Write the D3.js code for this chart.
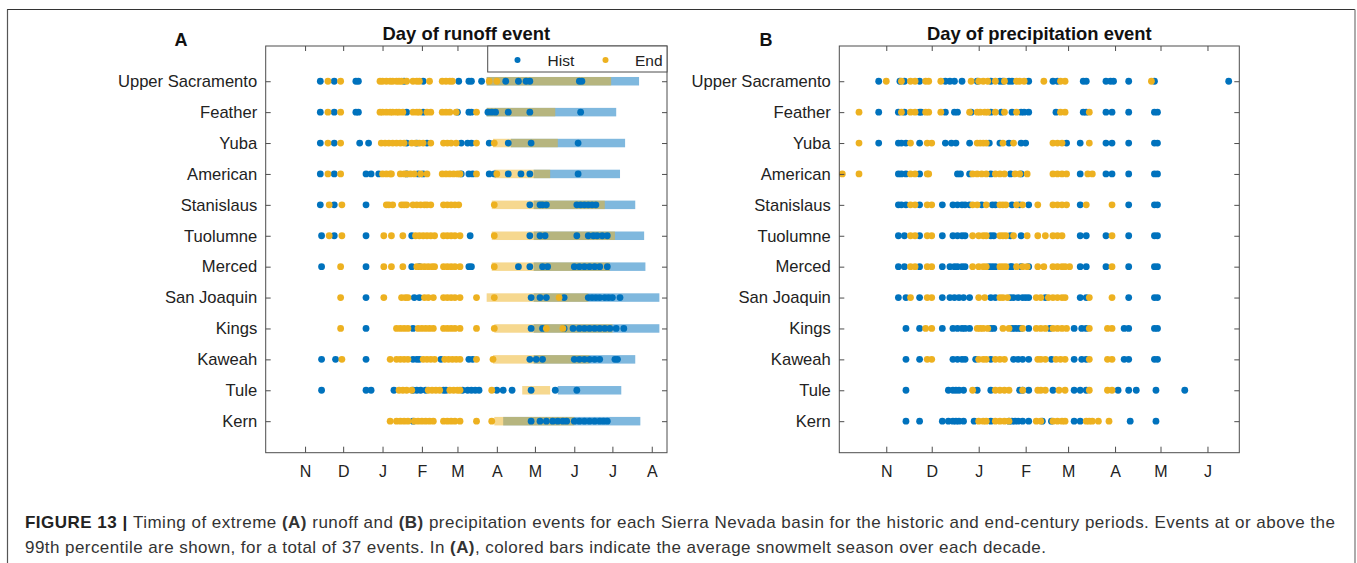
<!DOCTYPE html>
<html>
<head>
<meta charset="utf-8">
<script src="https://cdn.jsdelivr.net/npm/d3@7"></script>
<style>
  html, body { margin: 0; padding: 0; background: #fff; }
  svg { display: block; font-family: "Liberation Sans", Arial, Helvetica, sans-serif; }
</style>
</head>
<body>
<svg id="fig" width="1357" height="563"></svg>
<script>
// Basins, top to bottom
const basins = ["Upper Sacramento", "Feather", "Yuba", "American", "Stanislaus", "Tuolumne",
  "Merced", "San Joaquin", "Kings", "Kaweah", "Tule", "Kern"];

// Month ticks, as day of water year (Oct 1 = day 1)
const tickDays = [32, 62, 93, 124, 152, 183, 213, 244, 274, 305];
const tickLabelsA = ["N", "D", "J", "F", "M", "A", "M", "J", "J", "A"];
const tickLabelsB = ["N", "D", "J", "F", "M", "A", "M", "J"];

// Day of extreme runoff events, historic period (one list per basin)
const runoffHist = [
  [44, 55, 72, 74, 110, 125, 153, 161, 163, 171, 190, 200, 206, 209, 248, 250],
  [44, 55, 72, 74, 112, 125, 152, 161, 163, 176, 179, 182, 192, 209, 249],
  [44, 55, 75, 82, 112, 120, 128, 155, 160, 163, 177, 192, 210, 247],
  [44, 55, 80, 84, 90, 112, 121, 125, 155, 161, 164, 177, 181, 192, 202, 209, 247],
  [44, 55, 80, 209, 217, 219, 222, 246, 249, 252, 255, 258, 261],
  [45, 55, 80, 116, 162, 209, 217, 221, 246, 255, 259, 262, 266, 270],
  [45, 80, 116, 122, 161, 163, 200, 209, 219, 223, 244, 248, 252, 256, 260, 264, 270],
  [80, 118, 122, 210, 217, 222, 236, 255, 258, 261, 264, 268, 271, 274, 280],
  [80, 117, 210, 219, 236, 243, 248, 252, 256, 260, 264, 268, 272, 277, 283],
  [45, 56, 80, 117, 120, 122, 139, 161, 164, 209, 214, 219, 244, 248, 252, 256, 260, 264, 276, 278],
  [45, 80, 84, 102, 117, 120, 123, 127, 141, 143, 156, 160, 163, 166, 169, 183, 188, 195, 210, 229, 246],
  [117, 210, 217, 222, 227, 231, 235, 238, 244, 248, 252, 256, 260, 264, 267, 270]
];

// Day of extreme runoff events, end-century period
const runoffEnd = [
  [50, 60, 91, 93, 96, 99, 101, 104, 106, 108, 112, 117, 120, 122, 130, 140, 143, 146, 148, 177, 183],
  [50, 60, 91, 93, 96, 99, 101, 104, 106, 109, 117, 120, 122, 128, 131, 140, 143, 146, 151, 167],
  [50, 60, 92, 95, 98, 101, 104, 107, 110, 116, 119, 122, 125, 131, 141, 144, 147, 151, 167, 181],
  [50, 60, 93, 96, 99, 100, 107, 110, 112, 115, 118, 123, 128, 140, 143, 146, 149, 152, 154, 167, 183],
  [51, 61, 96, 98, 101, 108, 110, 112, 117, 120, 123, 126, 128, 131, 141, 144, 147, 150, 153, 181],
  [51, 61, 94, 100, 109, 119, 122, 125, 128, 131, 134, 141, 144, 147, 150, 154, 181],
  [60, 94, 100, 109, 120, 123, 126, 129, 132, 134, 141, 144, 147, 150, 154, 181],
  [60, 94, 108, 111, 113, 126, 129, 133, 141, 144, 147, 150, 154, 167, 181, 232],
  [60, 104, 107, 110, 113, 121, 124, 127, 130, 133, 141, 144, 147, 150, 154, 167, 181, 222, 235],
  [61, 99, 104, 107, 110, 113, 125, 128, 131, 134, 142, 145, 148, 151, 154, 167, 180],
  [106, 109, 112, 116, 129, 132, 135, 138, 146, 149, 152, 154, 179],
  [99, 104, 107, 110, 113, 118, 121, 124, 127, 130, 133, 141, 144, 147, 150, 154, 167, 179]
];

// Average snowmelt season [start, end] per basin
const meltHist = [
  [175, 295], [175, 277], [194, 284], [212, 280], [212, 292], [212, 299],
  [212, 300], [212, 311], [212, 311], [212, 292], [231, 281], [188, 296]
];
const meltEnd = [
  [175, 273], [175, 229], [180, 231], [181, 225], [179, 268], [179, 276],
  [179, 272], [175, 255], [181, 274], [180, 256], [203, 225], [181, 244]
];

// Day of extreme precipitation events, historic period
const precipHist = [
  [27, 41, 44, 54, 71, 74, 77, 82, 92, 101, 107, 109, 113, 115, 126, 142, 145, 162, 164, 177, 180, 182, 192, 209, 258],
  [27, 40, 44, 54, 55, 71, 77, 79, 88, 101, 108, 115, 121, 123, 126, 144, 162, 164, 177, 181, 192, 209, 211],
  [27, 40, 42, 45, 54, 71, 75, 78, 87, 100, 107, 113, 121, 124, 151, 160, 177, 181, 192, 209, 211],
  [40, 42, 45, 54, 79, 81, 87, 101, 114, 121, 160, 177, 181, 192, 209, 211],
  [40, 42, 45, 54, 69, 76, 79, 82, 84, 87, 95, 102, 104, 115, 120, 126, 160, 192, 209, 211],
  [40, 44, 54, 69, 76, 79, 82, 84, 101, 103, 114, 121, 160, 164, 177, 192, 209, 211],
  [40, 44, 54, 69, 74, 77, 79, 82, 84, 100, 102, 104, 114, 115, 121, 126, 160, 164, 177, 192, 209, 211],
  [40, 45, 54, 69, 74, 77, 80, 83, 87, 101, 104, 114, 116, 119, 122, 124, 126, 137, 160, 164, 192, 209, 211],
  [45, 54, 69, 76, 79, 82, 84, 87, 101, 103, 115, 117, 119, 121, 126, 140, 156, 161, 164, 189, 192, 209, 211],
  [45, 54, 76, 79, 82, 84, 91, 101, 116, 119, 122, 126, 141, 156, 161, 164, 189, 192, 209, 211],
  [45, 73, 76, 78, 80, 83, 92, 101, 120, 122, 126, 142, 156, 160, 164, 185, 192, 197, 210, 229],
  [45, 54, 69, 73, 76, 78, 80, 83, 90, 101, 113, 115, 117, 119, 122, 126, 135, 141, 156, 160, 193, 210]
];

// Day of extreme precipitation events, end-century period
const precipEnd = [
  [32, 42, 48, 51, 58, 60, 68, 88, 93, 96, 99, 104, 110, 118, 120, 123, 136, 147, 150, 207],
  [14, 42, 48, 51, 58, 60, 68, 87, 92, 94, 97, 99, 104, 110, 118, 147, 150, 166],
  [14, 48, 59, 62, 92, 94, 96, 98, 109, 116, 142, 145, 148, 166],
  [3, 14, 48, 51, 59, 60, 89, 92, 95, 98, 104, 107, 110, 117, 120, 125, 142, 145, 148, 151, 165, 168],
  [48, 51, 59, 62, 89, 92, 98, 107, 109, 111, 118, 122, 132, 142, 145, 148, 151, 164, 181],
  [48, 51, 59, 62, 89, 93, 96, 98, 107, 109, 111, 116, 125, 132, 137, 142, 145, 148, 181],
  [48, 51, 59, 62, 89, 93, 96, 98, 107, 109, 111, 118, 122, 125, 132, 136, 142, 145, 148, 150, 153, 181],
  [48, 59, 62, 93, 97, 107, 109, 112, 131, 134, 139, 142, 145, 148, 150, 166, 181],
  [58, 62, 92, 94, 96, 99, 109, 113, 122, 131, 134, 137, 142, 145, 148, 151, 166, 178, 181],
  [59, 62, 93, 96, 98, 104, 107, 110, 132, 134, 137, 144, 147, 150, 166, 178, 181],
  [89, 104, 107, 110, 113, 122, 132, 134, 137, 146, 150, 166, 178, 181],
  [93, 96, 98, 104, 107, 110, 113, 131, 134, 142, 145, 148, 150, 164, 166, 168, 172, 179]
];

const BLUE = "#0072BD";
const YELLOW = "#EDB120";
const AXIS = "#4d4d4d";
const TEXT = "#222";

const svg = d3.select("#fig");

// Outer figure frame
svg.append("line").attr("x1", 7).attr("x2", 1355).attr("y1", 9.5).attr("y2", 9.5)
  .attr("stroke", "#333").attr("stroke-width", 1.2);
svg.append("line").attr("x1", 7.5).attr("x2", 7.5).attr("y1", 9.5).attr("y2", 563)
  .attr("stroke", "#555").attr("stroke-width", 1.2);
svg.append("line").attr("x1", 1355).attr("x2", 1355).attr("y1", 9.5).attr("y2", 563)
  .attr("stroke", "#888").attr("stroke-width", 1.4);

const y = d3.scaleLinear().domain([-1.14, 12.02]).range([46, 452.7]);

function panel(opts) {
  const { x, labels, hist, end, melt, title, letter, letterX } = opts;
  const [x0, x1] = x.range();
  const g = svg.append("g");
  const xt = tickDays.slice(0, labels.length);

  // Snowmelt season bars: historic then end-century, semi-transparent
  if (melt) {
    const barH = 8.5;
    g.append("g").selectAll("rect").data(melt.hist).join("rect")
      .attr("x", d => x(d[0])).attr("width", d => x(d[1]) - x(d[0]))
      .attr("y", (d, i) => y(i) - barH / 2).attr("height", barH)
      .attr("fill", BLUE).attr("fill-opacity", 0.5);
    g.append("g").selectAll("rect").data(melt.end).join("rect")
      .attr("x", d => x(d[0])).attr("width", d => x(d[1]) - x(d[0]))
      .attr("y", (d, i) => y(i) - barH / 2).attr("height", barH)
      .attr("fill", YELLOW).attr("fill-opacity", 0.5);
  }

  // Event dots
  const flat = (arr) => arr.flatMap((days, i) => days.map(d => ({ d, i })));
  g.append("g").selectAll("circle").data(flat(hist)).join("circle")
    .attr("cx", p => x(p.d)).attr("cy", p => y(p.i)).attr("r", 3.4).attr("fill", BLUE);
  g.append("g").selectAll("circle").data(flat(end)).join("circle")
    .attr("cx", p => x(p.d)).attr("cy", p => y(p.i)).attr("r", 3.4).attr("fill", YELLOW);

  // Axes with inward ticks on all four sides
  const bottom = g.append("g").attr("transform", `translate(0,${y.range()[1]})`)
    .call(d3.axisBottom(x).tickValues(xt).tickFormat((d, i) => labels[i]).tickSize(-6).tickPadding(12.5));
  const top = g.append("g").attr("transform", `translate(0,${y.range()[0]})`)
    .call(d3.axisTop(x).tickValues(xt).tickFormat("").tickSize(-5));
  const left = g.append("g").attr("transform", `translate(${x0},0)`)
    .call(d3.axisLeft(y).tickValues(d3.range(basins.length)).tickFormat((d) => basins[d]).tickSize(-5).tickPadding(8.5));
  const right = g.append("g").attr("transform", `translate(${x1},0)`)
    .call(d3.axisRight(y).tickValues(d3.range(basins.length)).tickFormat("").tickSize(-5));
  [bottom, top, left, right].forEach(a => {
    a.select(".domain").remove();
    a.selectAll(".tick line").attr("stroke", AXIS);
    a.selectAll(".tick text").attr("fill", TEXT).attr("font-size", 16.6);
  });
  bottom.selectAll(".tick text").attr("font-size", 16);

  g.append("rect").attr("x", x0).attr("y", y.range()[0])
    .attr("width", x1 - x0).attr("height", y.range()[1] - y.range()[0])
    .attr("fill", "none").attr("stroke", AXIS).attr("stroke-width", 1);

  g.append("text").attr("x", (x0 + x1) / 2).attr("y", 39.5)
    .attr("text-anchor", "middle").attr("font-weight", "bold").attr("font-size", 18.4)
    .attr("fill", "#111").text(title);
  g.append("text").attr("x", letterX).attr("y", 45.5)
    .attr("text-anchor", "middle").attr("font-weight", "bold").attr("font-size", 18)
    .attr("fill", "#111").text(letter);
  return g;
}

const xA = d3.scaleLinear().domain([1, 317]).range([265.7, 667]);
const xB = d3.scaleLinear().domain([1, 265]).range([839.3, 1239.3]);

const gA = panel({ x: xA, labels: tickLabelsA, hist: runoffHist, end: runoffEnd,
  melt: { hist: meltHist, end: meltEnd }, title: "Day of runoff event", letter: "A", letterX: 181 });
panel({ x: xB, labels: tickLabelsB, hist: precipHist, end: precipEnd,
  title: "Day of precipitation event", letter: "B", letterX: 766 });

// Legend in the top-right corner of panel A
const lg = gA.append("g");
lg.append("rect").attr("x", 487.7).attr("y", 46).attr("width", 667 - 487.7).attr("height", 26)
  .attr("fill", "#fff").attr("stroke", AXIS).attr("stroke-width", 1);
const legendItems = [{ name: "Hist", color: BLUE, cx: 517.5, tx: 547.5 }, { name: "End", color: YELLOW, cx: 605.5, tx: 635 }];
legendItems.forEach(it => {
  lg.append("circle").attr("cx", it.cx).attr("cy", 60).attr("r", 3).attr("fill", it.color);
  lg.append("text").attr("x", it.tx).attr("y", 65.5).attr("font-size", 15.5).attr("fill", TEXT).text(it.name);
});

// Caption
const cap = svg.append("g").attr("font-size", 17).attr("fill", "#333");
const line1 = cap.append("text").attr("x", 25).attr("y", 528)
  .attr("textLength", 1310).attr("lengthAdjust", "spacing");
line1.append("tspan").attr("font-weight", "bold").attr("fill", "#222").text("FIGURE 13 | ");
line1.append("tspan").text("Timing of extreme ");
line1.append("tspan").attr("font-weight", "bold").text("(A)");
line1.append("tspan").text(" runoff and ");
line1.append("tspan").attr("font-weight", "bold").text("(B)");
line1.append("tspan").text(" precipitation events for each Sierra Nevada basin for the historic and end-century periods. Events at or above the");
const line2 = cap.append("text").attr("x", 25).attr("y", 552.5)
  .attr("textLength", 1021).attr("lengthAdjust", "spacing");
line2.append("tspan").text("99th percentile are shown, for a total of 37 events. In ");
line2.append("tspan").attr("font-weight", "bold").text("(A)");
line2.append("tspan").text(", colored bars indicate the average snowmelt season over each decade.");
</script>
</body>
</html>
